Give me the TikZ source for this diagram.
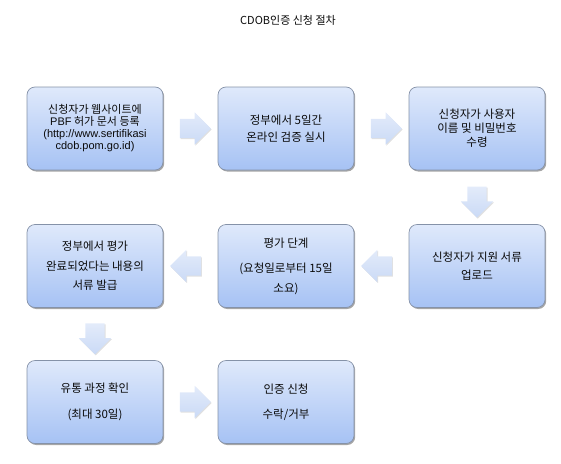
\documentclass[tikz,border=0pt]{standalone}
\usepackage{fontspec}
\setmainfont{Noto Sans CJK KR}
\newfontfamily\latinfont{Liberation Sans}
\usetikzlibrary{calc,shapes.arrows,shadows}
\definecolor{boxtop}{HTML}{DFE9FB}
\definecolor{boxbot}{HTML}{A6C2F4}
\definecolor{boxline}{HTML}{8592A8}
\definecolor{arrtop}{HTML}{E3EBFA}
\definecolor{arrbot}{HTML}{CADAF6}
\definecolor{textcol}{HTML}{0A0A0A}

\begin{document}
\begin{tikzpicture}[x=1pt, y=-1pt,
    stepbox/.style={draw=boxline, line width=0.7pt, rounded corners=8pt, minimum width=136pt, minimum height=83pt, inner sep=2pt, align=center, top color=boxtop, bottom color=boxbot, text=textcol, font=\fontsize{11.5}{13.5}\selectfont, drop shadow={shadow xshift=1.2pt, shadow yshift=-1.5pt, opacity=0.35, fill=black}},
    blockarrow/.style={single arrow, draw=none, minimum height=31pt, minimum width=0pt, inner sep=9.5pt, single arrow head extend=6.5pt, single arrow head indent=0pt, top color=arrtop, bottom color=arrbot, drop shadow={shadow xshift=0.8pt, shadow yshift=-1pt, opacity=0.12, fill=black}},
    toright/.style={blockarrow},
    toleft/.style={blockarrow, shape border rotate=180},
    todown/.style={blockarrow, shape border rotate=270},
]
\useasboundingbox (0,0) rectangle (561,463);

\node[font=\fontsize{11}{13}\selectfont, text=textcol] (title) at (288,20) {CDOB인증 신청 절차};

% first row
\node[stepbox, font=\fontsize{11}{12}\selectfont] (apply) at (95,128.5) {신청자가 웹사이트에\\{\latinfont PBF} 허가 문서 등록\\{\latinfont (http://www.sertifikasi}\\{\latinfont cdob.pom.go.id)}};
\node[stepbox] (verify) at (286,128.5) {정부에서 5일간\\[4pt]온라인 검증 실시};
\node[stepbox] (account) at (477,128.5) {신청자가 사용자\\[0.5pt]이름 및 비밀번호\\[0.5pt]수령};

% second row
\node[stepbox] (upload) at (477,266) {신청자가 지원 서류\\[5pt]업로드};
\node[stepbox] (assess) at (286,266) {평가 단계\\[12pt](요청일로부터 15일\\[6pt]소요)};
\node[stepbox] (issue) at (95,266) {정부에서 평가\\[6pt]완료되었다는 내용의\\[6pt]서류 발급};

% third row
\node[stepbox] (distrib) at (95,402) {유통 과정 확인\\[12pt](최대 30일)};
\node[stepbox] (decide) at (286,402) {인증 신청\\[12pt]수락/거부};

% block arrows between the steps
\node[toright] (a1) at ($(apply)!0.5!(verify)$) {};
\node[toright] (a2) at ($(verify)!0.5!(account)$) {};
\node[todown] (a3) at ($(account)!0.5!(upload)$) {};
\node[toleft] (a4) at ($(upload)!0.5!(assess)$) {};
\node[toleft] (a5) at ($(assess)!0.5!(issue)$) {};
\node[todown] (a6) at ($(issue)!0.5!(distrib)$) {};
\node[toright] (a7) at ($(distrib)!0.5!(decide)$) {};
\end{tikzpicture}
\end{document}
